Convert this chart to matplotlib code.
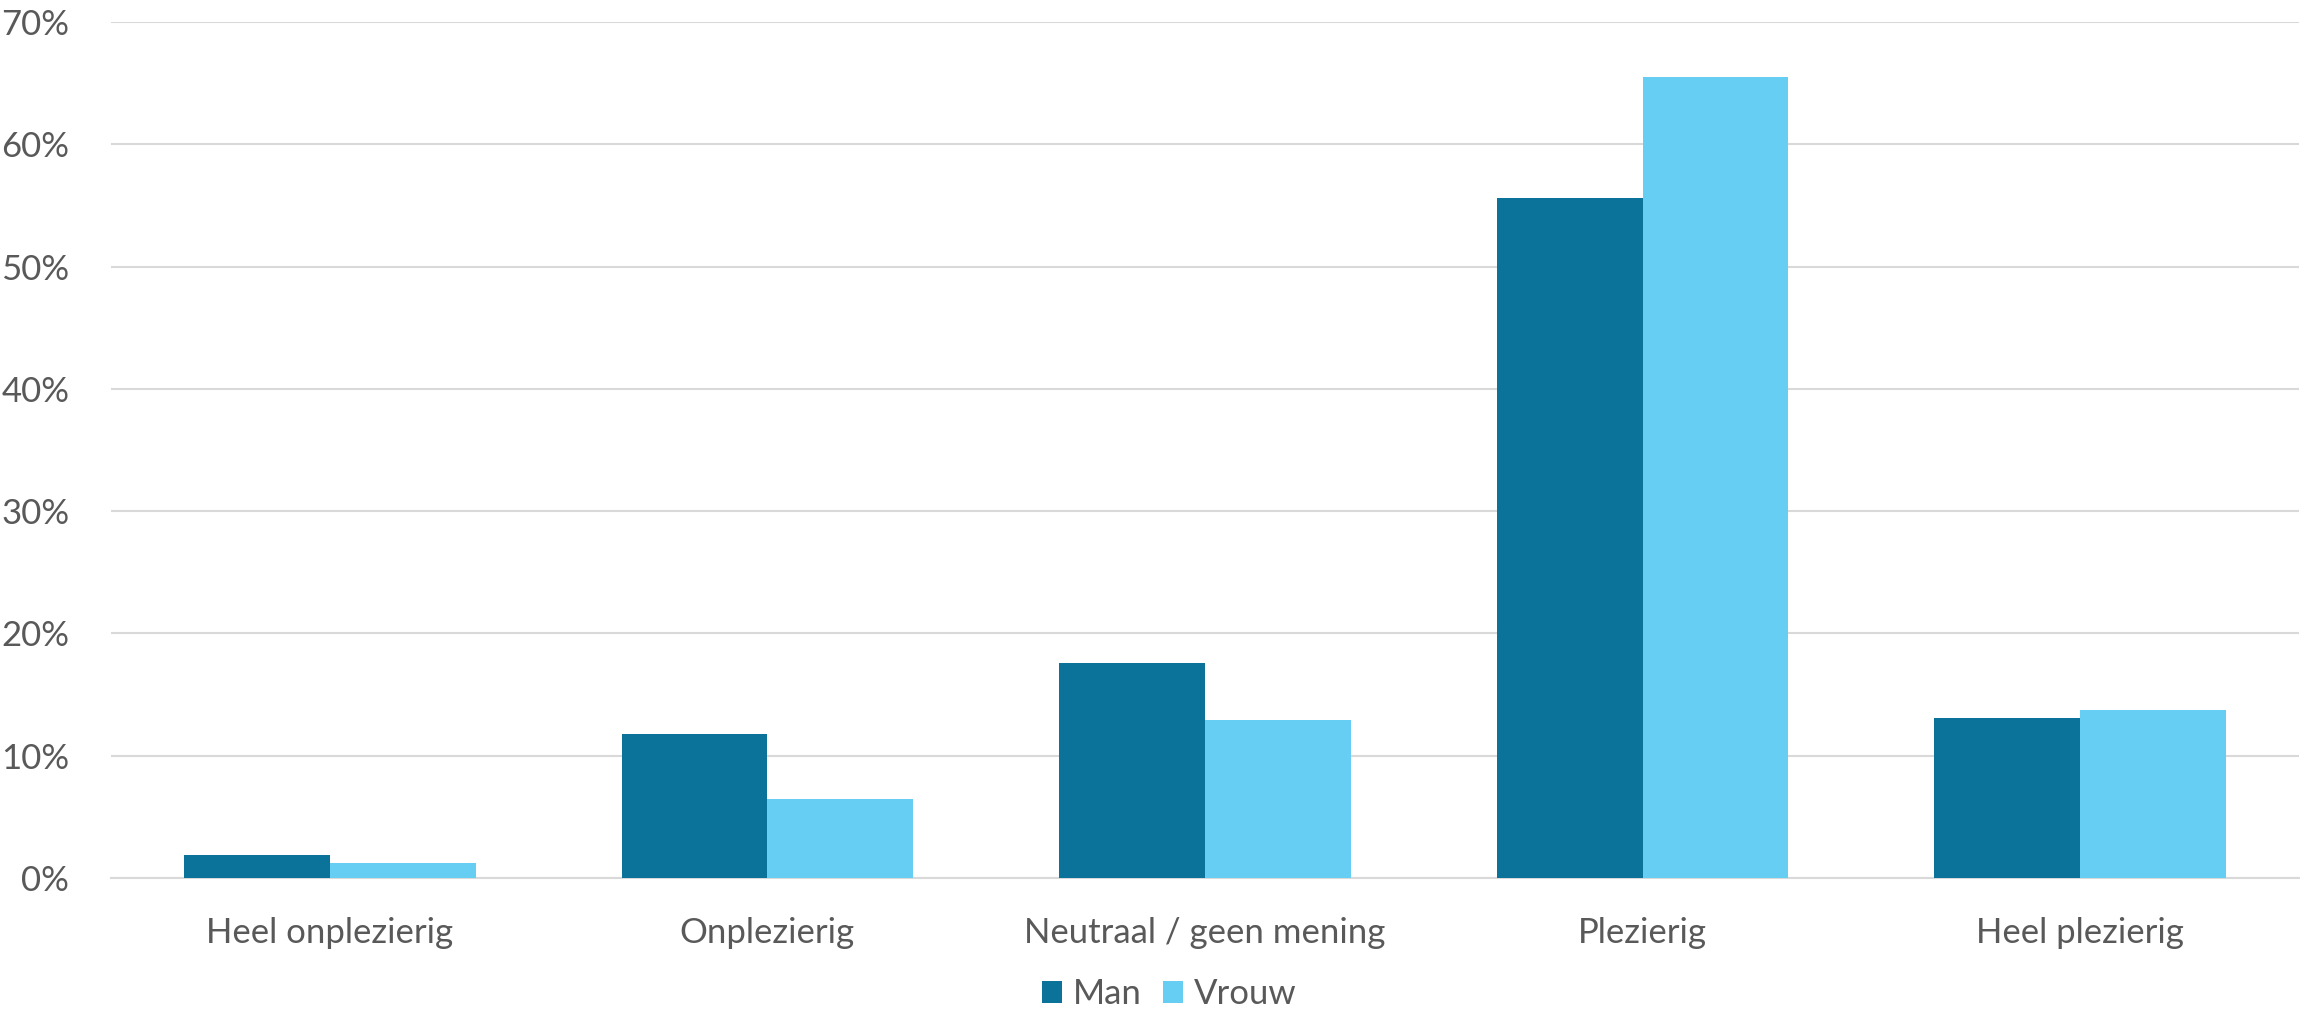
import numpy as np
import matplotlib
matplotlib.use("Agg")
from matplotlib import pyplot as plt
from matplotlib.ticker import FuncFormatter

categories = ["Heel onplezierig", "Onplezierig", "Neutraal / geen mening", "Plezierig", "Heel plezierig"]
man = [1.85, 11.8, 17.6, 55.6, 13.1]
vrouw = [1.25, 6.45, 12.9, 65.5, 13.75]
series_names = ["Man", "Vrouw"]
yticks = [0, 10, 20, 30, 40, 50, 60, 70]

plt.rcParams['font.family'] = ['Lato', 'DejaVu Sans']
text_col = '#595959'

fig = plt.figure(figsize=(23.15, 10.10), dpi=100)
ax = fig.add_axes([111 / 2315, 1 - 878 / 1010, (2299 - 111) / 2315, (878 - 22) / 1010])

x = np.arange(len(categories))
w = 1 / 3
ax.bar(x - w / 2, man, width=w, color='#0B7399', label=series_names[0], zorder=3)
ax.bar(x + w / 2, vrouw, width=w, color='#66CDF3', label=series_names[1], zorder=3)

ax.set_xlim(-0.5, len(categories) - 0.5)
ax.set_ylim(0, 70)
ax.set_yticks(yticks)
ax.yaxis.set_major_formatter(FuncFormatter(lambda v, p: f"{v:.0f}%"))
ax.set_xticks(x)
ax.set_xticklabels(categories)

ax.grid(axis='y', color='#D9D9D9', linewidth=1.5, zorder=0)
for s in ['top', 'right', 'left']:
    ax.spines[s].set_visible(False)
ax.spines['bottom'].set_color('#D9D9D9')
ax.spines['bottom'].set_linewidth(1.5)
ax.tick_params(axis='both', length=0, labelsize=25, colors=text_col)
ax.tick_params(axis='x', pad=28)
ax.tick_params(axis='y', pad=30)

fig.legend(loc='center', bbox_to_anchor=(0.505, 1 - 994 / 1010), ncol=2, frameon=False,
           fontsize=25, labelcolor=text_col, handlelength=0.6, handleheight=0.6,
           handletextpad=0.3, columnspacing=0.6)

plt.savefig('out.png', dpi=100)
plt.close()
